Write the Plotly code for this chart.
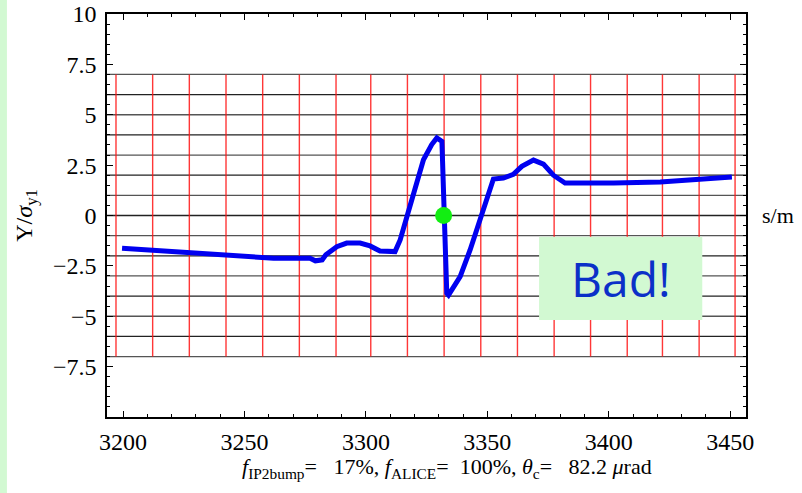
import plotly.graph_objects as go

# ---- data ----
s_vals = [3199.6, 3227.7, 3262.0, 3277.0, 3279.2, 3282.0, 3283.5, 3288.0, 3292.1, 3297.6,
          3301.7, 3305.8, 3312.0, 3314.1, 3316.8, 3320.3, 3323.7, 3327.1, 3329.2, 3331.3,
          3331.9, 3332.2, 3332.6, 3333.3, 3334.0, 3338.8, 3342.9, 3347.0, 3349.8, 3352.5,
          3356.6, 3360.7, 3364.2, 3369.0, 3373.1, 3377.2, 3382.0, 3388.2, 3402.0, 3421.2,
          3436.3, 3450.7]
y_vals = [-1.62, -1.86, -2.12, -2.12, -2.25, -2.20, -1.95, -1.55, -1.37, -1.37,
          -1.51, -1.76, -1.79, -1.21, -0.05, 1.44, 2.77, 3.52, 3.85, 3.68,
          1.44, -0.05, -2.20, -3.86, -3.95, -3.03, -1.71, -0.21, 0.95, 1.81,
          1.86, 2.04, 2.44, 2.75, 2.55, 2.00, 1.61, 1.60, 1.61, 1.66,
          1.78, 1.91]
ip_s = [3332.0]
ip_y = [0.0]

red_lines_s = [3197.1, 3212.2, 3227.3, 3242.4, 3257.5, 3272.6, 3287.7, 3302.0, 3317.1,
               3332.2, 3347.3, 3362.4, 3377.5, 3392.5, 3407.6, 3422.1, 3437.2, 3452.0]
grid_y = [-7, -6, -5, -4, -3, -2, -1, 0, 1, 2, 3, 4, 5, 6, 7]

x_tickvals = [3200, 3250, 3300, 3350, 3400, 3450]
x_ticktext = ["3200", "3250", "3300", "3350", "3400", "3450"]
y_tickvals = [-10, -7.5, -5, -2.5, 0, 2.5, 5, 7.5, 10]
y_ticktext = ["", "\u22127.5", "\u22125", "\u22122.5", "0", "2.5", "5", "7.5", "10"]

bottom_label = ("<i>f</i><sub>IP2bump</sub>=\u00a0\u00a0 17%, <i>f</i><sub>ALICE</sub>=\u00a0 100%, "
                "<i>\u03b8</i><sub>c</sub>=\u00a0\u00a0 82.2 <i>\u03bc</i>rad")

SERIF = "Liberation Serif"

fig = go.Figure()

shapes = []
# left light-green strip of the slide
shapes.append(dict(type="rect", xref="paper", yref="paper", x0=-0.1675, x1=-0.1566,
                   y0=-0.3, y1=1.1, fillcolor="#d2f9d2", line=dict(width=0), layer="below"))
for i, gy in enumerate(grid_y):
    shapes.append(dict(type="line", xref="paper", yref="y", x0=0, x1=1, y0=gy, y1=gy,
                       line=dict(color="#222222" if i % 2 else "#555555", width=1.3), layer="below"))
for rs in red_lines_s:
    shapes.append(dict(type="line", xref="x", yref="y", x0=rs, x1=rs, y0=grid_y[0], y1=grid_y[-1],
                       line=dict(color="rgba(255,20,20,0.85)", width=1.4), layer="below"))
# "Bad!" box
shapes.append(dict(type="rect", xref="x", yref="y", x0=3371.3, x1=3438.5, y0=-5.19, y1=-1.06,
                   fillcolor="#d2f9d2", line=dict(width=0), layer="above"))

fig.add_trace(go.Scatter(x=s_vals, y=y_vals, mode="lines",
                         line=dict(color="#0000f0", width=5), hoverinfo="skip", showlegend=False))
fig.add_trace(go.Scatter(x=ip_s, y=ip_y, mode="markers",
                         marker=dict(color="#12ee12", size=17, line=dict(width=0)),
                         hoverinfo="skip", showlegend=False))

annotations = [
    dict(text="Bad!", x=(3371.3 + 3438.5) / 2, y=(-5.19 - 1.06) / 2, xref="x", yref="y",
         showarrow=False, font=dict(family="Open Sans", size=48, color="#0b30c8")),
    dict(text="Y/<i>\u03c3</i><sub>y1</sub>", xref="paper", yref="y", x=-0.128, y=0,
         xanchor="center", yanchor="middle",
         textangle=-90, showarrow=False, font=dict(family=SERIF, size=24, color="black")),
    dict(text="s/m", xref="paper", yref="y", x=1.05, y=0, xanchor="center", yanchor="middle",
         showarrow=False, font=dict(family=SERIF, size=22, color="black")),
    dict(text=bottom_label, xref="paper", yref="paper", x=0.532, y=-0.127, xanchor="center",
         yanchor="middle", showarrow=False, font=dict(family=SERIF, size=22, color="black")),
]

fig.update_layout(
    width=802, height=493,
    margin=dict(l=107, r=56, t=14, b=76),
    paper_bgcolor="white", plot_bgcolor="white",
    shapes=shapes, annotations=annotations,
    xaxis=dict(range=[3193.4, 3456.5], tickvals=x_tickvals, ticktext=x_ticktext,
               automargin=False,
               ticks="inside", ticklen=6, tickwidth=1.3, tickcolor="black",
               showline=True, linecolor="black", linewidth=1.5, mirror="ticks",
               showgrid=False, zeroline=False, ticklabelstandoff=2,
               tickfont=dict(family=SERIF, size=24, color="black"),
               minor=dict(dtick=10, tick0=3200, ticks="inside", ticklen=3, tickwidth=1.2,
                          tickcolor="black", showgrid=False)),
    yaxis=dict(range=[-10, 10], tickvals=y_tickvals, ticktext=y_ticktext,
               automargin=False,
               ticks="inside", ticklen=6, tickwidth=1.3, tickcolor="black",
               showline=True, linecolor="black", linewidth=1.5, mirror="ticks",
               showgrid=False, zeroline=False, ticklabelstandoff=4,
               tickfont=dict(family=SERIF, size=24, color="black"),
               minor=dict(dtick=0.5, tick0=0, ticks="inside", ticklen=3, tickwidth=1.2,
                          tickcolor="black", showgrid=False)),
)

fig.write_html("out.html")
